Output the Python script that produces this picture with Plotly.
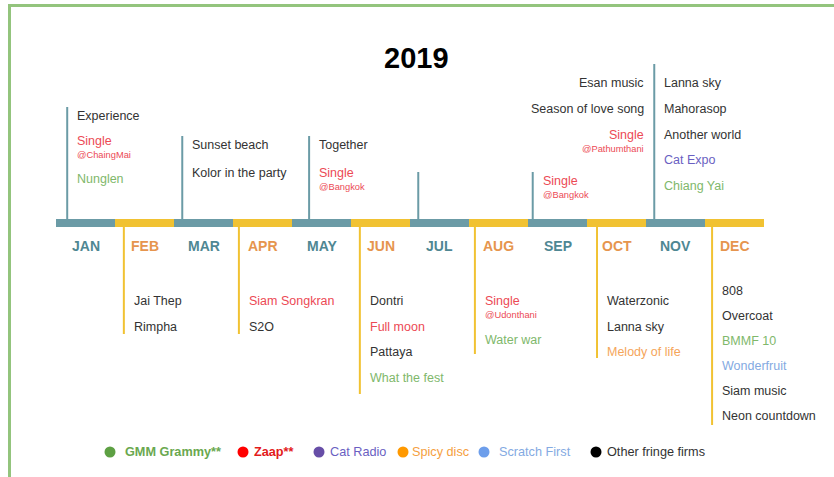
import plotly.graph_objects as go

# ── Data ──────────────────────────────────────────────────────────────────────

MONTHS = ["JAN", "FEB", "MAR", "APR", "MAY", "JUN",
          "JUL", "AUG", "SEP", "OCT", "NOV", "DEC"]

FIRMS = ["gmm", "zaap", "cat", "spicy", "scratch", "other"]
FIRM_NAMES = ["<b>GMM Grammy**</b>", "<b>Zaap**</b>", "Cat Radio",
              "Spicy disc", "Scratch First", "Other fringe firms"]

# (event, firm, venue)
JAN_EVENTS = [("Experience", "other", None),
              ("Single", "zaap", "@ChaingMai"),
              ("Nunglen", "gmm", None)]
FEB_EVENTS = [("Jai Thep", "other", None), ("Rimpha", "other", None)]
MAR_EVENTS = [("Sunset beach", "other", None),
              ("Kolor in the party", "other", None)]
APR_EVENTS = [("Siam Songkran", "zaap", None), ("S2O", "other", None)]
MAY_EVENTS = [("Together", "other", None), ("Single", "zaap", "@Bangkok")]
JUN_EVENTS = [("Dontri", "other", None), ("Full moon", "zaap", None),
              ("Pattaya", "other", None), ("What the fest", "gmm", None)]
JUL_EVENTS = []
AUG_EVENTS = [("Single", "zaap", "@Udonthani"), ("Water war", "gmm", None)]
SEP_EVENTS = [("Single", "zaap", "@Bangkok")]
OCT_EVENTS = [("Waterzonic", "other", None), ("Lanna sky", "other", None),
              ("Melody of life", "spicy", None)]
NOV_EVENTS = [("Lanna sky", "other", None), ("Mahorasop", "other", None),
              ("Another world", "other", None), ("Cat Expo", "cat", None),
              ("Chiang Yai", "gmm", None)]
NOV_EVENTS_LEFT = [("Esan music", "other", None),
                   ("Season of love song", "other", None),
                   ("Single", "zaap", "@Pathumthani")]
DEC_EVENTS = [("808", "other", None), ("Overcoat", "other", None),
              ("BMMF 10", "gmm", None), ("Wonderfruit", "scratch", None),
              ("Siam music", "other", None), ("Neon countdown", "other", None)]

EVENTS = [JAN_EVENTS, FEB_EVENTS, MAR_EVENTS, APR_EVENTS, MAY_EVENTS,
          JUN_EVENTS, JUL_EVENTS, AUG_EVENTS, SEP_EVENTS, OCT_EVENTS,
          NOV_EVENTS, DEC_EVENTS]

# ── Style / layout ────────────────────────────────────────────────────────────

FONT = "Arial, 'Liberation Sans', sans-serif"
W, H = 834, 477
X0_PX, SEG_PX = 56, 59          # timeline start and month width in pixels

TEAL, YELLOW = "#6b9ba6", "#f1c232"
TEAL_TXT, ORANGE_TXT = "#4f8793", "#e6954e"
TEXT_COL = {"gmm": "#80b86b", "zaap": "#ec4a55", "cat": "#6a5fc2",
            "spicy": "#f5a55a", "scratch": "#84aae2", "other": "#333333"}
DOT_COL = {"gmm": "#5da043", "zaap": "#ff0000", "cat": "#674ea7",
           "spicy": "#ff9900", "scratch": "#6d9eeb", "other": "#000000"}
LEGEND_TXT = {"gmm": "#6aa84f", "zaap": "#e31b1b", "cat": "#6a5fc2",
              "spicy": "#f5a040", "scratch": "#84aae2", "other": "#333333"}

BAR_TOP, BAR_BOT = 219, 227
STEM_POS = [0.19, 0.15, 0.14, 0.10, 0.29, 0.15, 0.14, 0.10, 0.08, 0.17, 0.14, 0.12]
STEM_END = [107, 334, 136, 334, 136, 394, 172, 354, 172, 358, 64, 425]
FIRST_Y = [116, 301, 145, 301, 145, 301, 0, 301, 181, 301, 83, 291]
ROW_STEP = [25, 26, 28, 26, 28, 25.7, 26, 26, 26, 25.5, 25.8, 25]
SUB_GAP, AFTER_SUB = 14, 13
TEXT_PAD = 8

LEGEND_DOT_PX = [110, 243, 319, 403, 484, 596]
LEGEND_TXT_PX = [123, 252, 328, 410, 497, 605]
LEGEND_Y = 452


def mx(px):
    """pixel x -> month units on the x axis"""
    return (px - X0_PX) / SEG_PX


fig = go.Figure()
shapes, annos = [], []


def add_column(items, x, y0, step, anchor):
    y = y0
    shift = TEXT_PAD if anchor == "left" else -TEXT_PAD
    for name, firm, venue in items:
        annos.append(dict(x=x, y=y, text=name, xanchor=anchor, yanchor="middle",
                          showarrow=False, xshift=shift,
                          font=dict(family=FONT, size=12.5, color=TEXT_COL[firm])))
        if venue:
            annos.append(dict(x=x, y=y + SUB_GAP, text=venue, xanchor=anchor,
                              yanchor="middle", showarrow=False, xshift=shift,
                              font=dict(family=FONT, size=9.3, color=TEXT_COL[firm])))
            y += AFTER_SUB
        y += step


for i, month in enumerate(MONTHS):
    above = i % 2 == 0
    col = TEAL if above else YELLOW
    # timeline segment
    shapes.append(dict(type="rect", xref="x", yref="y", x0=i, x1=i + 1,
                       y0=BAR_TOP, y1=BAR_BOT, fillcolor=col, line_width=0,
                       layer="above"))
    # stem
    sx = i + STEM_POS[i]
    shapes.append(dict(type="line", xref="x", yref="y", x0=sx, x1=sx,
                       y0=BAR_TOP if above else BAR_BOT, y1=STEM_END[i],
                       line=dict(color=col, width=2)))
    # month label
    annos.append(dict(x=i + 0.5, y=246, text=f"<b>{month}</b>", showarrow=False,
                      xanchor="center", yanchor="middle",
                      font=dict(family=FONT, size=14,
                                color=TEAL_TXT if above else ORANGE_TXT)))
    add_column(EVENTS[i], sx, FIRST_Y[i], ROW_STEP[i], "left")

# NOV stem also carries events on its left side
add_column(NOV_EVENTS_LEFT, 10 + STEM_POS[10], 83, 26, "right")

# title
annos.append(dict(x=mx(416), y=58, text="<b>2019</b>", showarrow=False,
                  xanchor="center", yanchor="middle",
                  font=dict(family=FONT, size=29, color="#000000")))

# legend
fig.add_trace(go.Scatter(
    x=[mx(p) for p in LEGEND_DOT_PX], y=[LEGEND_Y] * len(FIRMS),
    mode="markers", hoverinfo="skip",
    marker=dict(size=11, color=[DOT_COL[f] for f in FIRMS], line_width=0),
))
for f, name, px in zip(FIRMS, FIRM_NAMES, LEGEND_TXT_PX):
    annos.append(dict(x=mx(px), y=LEGEND_Y, text=name, showarrow=False,
                      xanchor="left", yanchor="middle",
                      font=dict(family=FONT, size=12.7, color=LEGEND_TXT[f])))

# green frame (open at right and bottom)
shapes.append(dict(type="path", xref="x", yref="y",
                   path=f"M {mx(9.5)} {H + 5} L {mx(9.5)} 5.5 L {mx(W + 5)} 5.5",
                   line=dict(color="#93c47d", width=3)))

fig.update_layout(
    width=W, height=H,
    margin=dict(l=0, r=0, t=0, b=0),
    paper_bgcolor="#ffffff", plot_bgcolor="#ffffff",
    showlegend=False,
    xaxis=dict(range=[mx(0), mx(W)], visible=False, fixedrange=True),
    yaxis=dict(range=[H, 0], visible=False, fixedrange=True),
    shapes=shapes, annotations=annos,
)

fig.write_html("out.html", config={"displayModeBar": False},
               post_script="document.body.style.margin='0';"
                           "document.body.style.overflow='hidden';")
